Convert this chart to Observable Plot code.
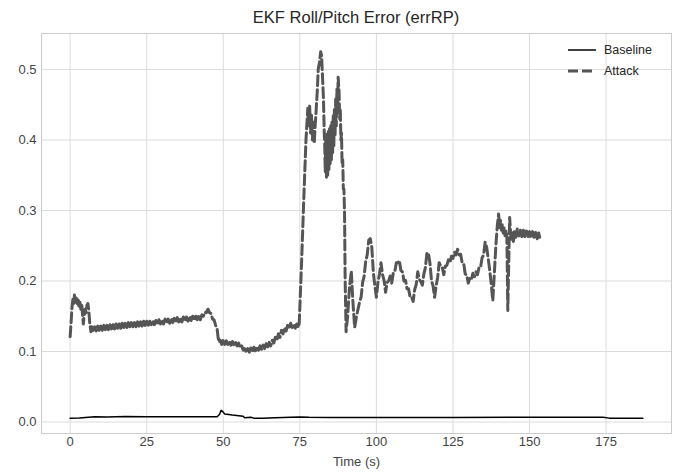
<!DOCTYPE html>
<html>
<head>
<meta charset="utf-8">
<script src="https://cdn.jsdelivr.net/npm/d3@7"></script>
<script src="https://cdn.jsdelivr.net/npm/@observablehq/plot@0.6"></script>
<style>
  body { margin: 0; background: white; }
  #wrap { position: relative; width: 673px; height: 473px; font-family: "Liberation Sans", Arial, sans-serif; }
  #title { height: 28px; box-sizing: border-box; padding: 8px 2px 0 41px; text-align: center; font-size: 16.5px; color: #262626; line-height: 18px; }
  #legend { position: absolute; left: 0; top: 0; pointer-events: none; }
</style>
</head>
<body>
<div id="wrap">
  <div id="title">EKF Roll/Pitch Error (errRP)</div>
  <div id="chart"></div>
</div>
<script>
const titleText = "EKF Roll/Pitch Error (errRP)";
const xLabel = "Time (s)";
const seriesNames = ["Baseline", "Attack"];
const xTicks = [0, 25, 50, 75, 100, 125, 150, 175];
const yTicks = [0.0, 0.1, 0.2, 0.3, 0.4, 0.5];

// Baseline: [time, errRP]
const baseline = [
  [0,0.0055],[3,0.0058],[6,0.0068],[8,0.0075],[12,0.0072],[18,0.0078],[25,0.0074],[35,0.0073],
  [45,0.0073],[48,0.0074],[48.8,0.0110],[49.3,0.0165],[49.8,0.0150],[50.5,0.0112],[53,0.0098],
  [55,0.0090],[56.5,0.0080],[57,0.0060],[58,0.0065],[59,0.0068],[60,0.0055],[63,0.0053],
  [67,0.0060],[72,0.0068],[75,0.0070],[78,0.0066],[85,0.0065],[100,0.0065],[125,0.0065],
  [150,0.0066],[170,0.0066],[174,0.0066],[176,0.0055],[180,0.0052],[187,0.0052]
];

// Attack: [time, errRP]
const attack = [
  [0,0.121],[0.3,0.140],[0.6,0.162],[0.9,0.174],[1.2,0.168],[1.4,0.180],[1.7,0.170],[2.0,0.176],
  [2.3,0.166],[2.6,0.173],[2.9,0.163],[3.2,0.170],[3.5,0.160],[3.8,0.166],[4.1,0.150],[4.3,0.139],
  [4.6,0.152],[4.9,0.160],[5.2,0.155],[5.5,0.166],[5.8,0.168],[6.1,0.158],[6.4,0.140],[6.8,0.128],
  [7.1,0.136],[7.5,0.130],
  [8,0.135],[8.5,0.129],[9,0.136],[9.5,0.130],[10,0.136],[10.5,0.130],[11,0.137],[11.5,0.131],
  [12,0.137],[12.5,0.131],[13,0.138],[13.5,0.132],[14,0.138],[14.5,0.132],[15,0.139],[15.5,0.133],
  [16,0.139],[16.5,0.133],[17,0.140],[17.5,0.134],[18,0.140],[18.5,0.134],[19,0.141],[19.5,0.135],
  [20,0.141],[20.5,0.135],[21,0.141],[21.5,0.135],[22,0.142],[22.5,0.136],[23,0.142],[23.5,0.136],
  [24,0.143],[24.5,0.137],[25,0.143],[25.5,0.137],[26,0.143],[26.5,0.138],[27,0.144],[27.5,0.138],
  [28,0.144],[28.5,0.138],[29,0.145],[29.5,0.139],[30,0.145],[30.5,0.139],[31,0.146],[31.5,0.140],
  [32,0.146],[32.5,0.140],[33,0.147],[33.5,0.141],[34,0.147],[34.5,0.141],[35,0.148],[35.5,0.142],
  [36,0.148],[36.5,0.142],[37,0.149],[37.5,0.143],[38,0.149],[38.5,0.143],[39,0.150],[39.5,0.144],
  [40,0.150],[40.5,0.144],[41,0.150],[41.5,0.145],[42,0.151],[42.5,0.145],[43,0.152],
  [43.5,0.150],[44,0.156],[44.5,0.155],[45,0.160],[45.5,0.155],[46,0.154],[46.5,0.146],[47,0.145],
  [47.5,0.137],[48,0.132],[48.3,0.120],[48.7,0.113],
  [49,0.116],[49.5,0.110],[50,0.116],[50.5,0.110],[51,0.115],[51.5,0.110],[52,0.115],[52.5,0.109],
  [53,0.114],[53.5,0.109],[54,0.113],[54.5,0.108],[55,0.112],[55.5,0.105],[56,0.108],[56.5,0.102],
  [57,0.104],[57.5,0.099],[58,0.104],[58.5,0.099],[59,0.105],[59.5,0.100],[60,0.106],[60.5,0.101],
  [61,0.107],[61.5,0.102],[62,0.108],[62.5,0.103],[63,0.109],[63.5,0.104],[64,0.111],[64.5,0.106],
  [65,0.113],[65.5,0.108],[66,0.116],[66.5,0.112],[67,0.120],[67.5,0.116],[68,0.125],[68.5,0.120],
  [69,0.130],[69.5,0.125],[70,0.134],[70.5,0.129],[71,0.137],[71.5,0.132],[72,0.140],[72.5,0.134],
  [73,0.139],[73.5,0.133],[74,0.139],[74.5,0.134],
  [74.8,0.140],[75.6,0.230],[76.4,0.330],[77.0,0.400],[77.4,0.430],
  [77.6,0.445],[77.9,0.420],[78.2,0.448],[78.5,0.410],[78.8,0.435],[79.1,0.400],[79.4,0.425],
  [79.7,0.395],[80.0,0.420],[80.3,0.440],[80.7,0.470],[81.0,0.500],[81.4,0.510],[81.8,0.525],
  [82.1,0.520],[82.4,0.490],[82.7,0.460],[83.0,0.405],
  [83.1,0.400],[83.3,0.355],[83.5,0.405],[83.7,0.347],[83.9,0.408],[84.1,0.350],[84.3,0.412],
  [84.5,0.358],[84.7,0.416],[84.9,0.364],[85.1,0.420],[85.3,0.372],[85.5,0.428],[85.7,0.382],
  [85.9,0.436],[86.1,0.392],[86.3,0.445],[86.5,0.405],[86.7,0.458],[86.9,0.420],[87.1,0.472],
  [87.3,0.440],[87.5,0.489],
  [87.8,0.470],[88.0,0.430],[88.2,0.445],[88.4,0.400],[88.6,0.410],[88.8,0.365],[89.0,0.372],
  [89.2,0.330],[89.4,0.330],[89.6,0.295],[89.8,0.200],[90.1,0.128],
  [90.6,0.150],[91.2,0.190],[91.8,0.214],[92.3,0.172],[92.9,0.134],[93.5,0.150],[94.0,0.160],
  [94.5,0.170],[95.0,0.177],[95.5,0.198],[96.0,0.207],[96.5,0.228],[97.0,0.237],[97.5,0.258],
  [98.0,0.260],[98.5,0.248],[99.0,0.212],[99.5,0.193],[100.0,0.177],[100.5,0.198],[101.0,0.210],
  [101.5,0.226],[102.0,0.209],[102.5,0.201],[103.0,0.184],[103.5,0.198],[104.0,0.200],[104.5,0.207],
  [105.0,0.197],[105.5,0.211],[106.0,0.213],[106.5,0.226],[107.0,0.226],[107.5,0.229],[108.0,0.215],
  [108.5,0.213],[109.0,0.200],[109.5,0.201],[110.0,0.189],[110.5,0.189],[111.0,0.177],[111.5,0.177],
  [112.0,0.171],[112.5,0.188],[113.0,0.195],[113.5,0.213],[114.0,0.202],[114.5,0.199],[115.0,0.194],
  [115.5,0.210],[116.0,0.219],[116.5,0.240],[117.0,0.239],[117.5,0.225],[118.0,0.200],[118.5,0.193],
  [119.0,0.177],[119.5,0.193],[120.0,0.205],[120.5,0.226],[121.0,0.221],[121.5,0.219],[122.0,0.209],
  [122.5,0.221],[123.0,0.222],[123.5,0.230],[124.0,0.226],[124.5,0.235],[125.0,0.232],[125.5,0.241],
  [126.0,0.237],[126.5,0.245],[127.0,0.237],[127.5,0.238],[128.0,0.226],[128.5,0.225],[129.0,0.210],
  [129.5,0.208],[130.0,0.197],[130.5,0.204],[131.0,0.202],[131.5,0.211],[132.0,0.206],[132.5,0.213],
  [133.0,0.209],[133.5,0.219],[134.0,0.219],[134.5,0.233],[135.0,0.237],[135.5,0.255],[136.0,0.248],
  [136.5,0.232],[137.0,0.215],[137.5,0.195],[138.0,0.172],[138.5,0.210],[139.0,0.250],[139.5,0.280],
  [139.9,0.295],[140.2,0.276],[140.5,0.286],[140.8,0.272],[141.1,0.280],[141.4,0.268],[141.7,0.276],
  [142.0,0.264],[142.3,0.272],[142.6,0.262],[142.9,0.158],[143.5,0.290],[143.8,0.270],[144.1,0.258],
  [144.4,0.268],[144.7,0.255],[145.0,0.270],[145.5,0.262],[146.0,0.274],[146.5,0.264],[147.0,0.272],
  [147.5,0.263],[148.0,0.272],[148.5,0.263],[149.0,0.271],[149.5,0.262],[150.0,0.270],[150.5,0.261],
  [151.0,0.270],[151.5,0.261],[152.0,0.269],[152.5,0.260],[153.0,0.268],[153.3,0.262]
];

const gridColor = "#dcdcdc";
const chart = Plot.plot({
  width: 673,
  height: 445,
  marginTop: 5,
  marginBottom: 40,
  marginLeft: 41,
  marginRight: 2,
  style: { fontFamily: "Liberation Sans, Arial, sans-serif", fontSize: "13px", color: "#333", background: "white" },
  x: { domain: [-9.35, 196.35] },
  y: { domain: [-0.0163, 0.551] },
  marks: [
    Plot.gridX(xTicks, { stroke: gridColor, strokeOpacity: 1, strokeWidth: 1 }),
    Plot.gridY(yTicks, { stroke: gridColor, strokeOpacity: 1, strokeWidth: 1 }),
    Plot.frame({ stroke: "#cccccc", strokeWidth: 1 }),
    Plot.axisX(xTicks, { tickSize: 0, tickPadding: 3, label: xLabel, labelAnchor: "center", labelArrow: "none", labelOffset: 32, fill: "#444" }),
    Plot.axisY(yTicks, { tickSize: 0, tickPadding: 5, tickFormat: d3.format(".1f"), label: null, fill: "#444" }),
    Plot.line(attack, { x: d => d[0], y: d => d[1], stroke: "#555555", strokeWidth: 3, strokeDasharray: "10,4", strokeLinejoin: "round" }),
    Plot.line(baseline, { x: d => d[0], y: d => d[1], stroke: "#000000", strokeWidth: 1.5 })
  ]
});
document.getElementById("chart").appendChild(chart);

// legend overlay (inside upper right of the axes)
const ns = "http://www.w3.org/2000/svg";
const leg = document.createElementNS(ns, "svg");
leg.setAttribute("id", "legend");
leg.setAttribute("width", 673);
leg.setAttribute("height", 473);
const styles = [
  { stroke: "#000000", width: 1.5, dash: null },
  { stroke: "#555555", width: 3, dash: "10,4" }
];
seriesNames.forEach((name, i) => {
  const y = 50 + i * 21;
  const ln = document.createElementNS(ns, "line");
  ln.setAttribute("x1", 568); ln.setAttribute("x2", 596);
  ln.setAttribute("y1", y); ln.setAttribute("y2", y);
  ln.setAttribute("stroke", styles[i].stroke);
  ln.setAttribute("stroke-width", styles[i].width);
  if (styles[i].dash) ln.setAttribute("stroke-dasharray", styles[i].dash);
  leg.appendChild(ln);
  const tx = document.createElementNS(ns, "text");
  tx.setAttribute("x", 604); tx.setAttribute("y", y);
  tx.setAttribute("dy", "0.35em");
  tx.setAttribute("font-size", "12.5px");
  tx.setAttribute("font-family", "Liberation Sans, Arial, sans-serif");
  tx.setAttribute("fill", "#262626");
  tx.textContent = name;
  leg.appendChild(tx);
});
document.getElementById("wrap").appendChild(leg);
</script>
</body>
</html>
